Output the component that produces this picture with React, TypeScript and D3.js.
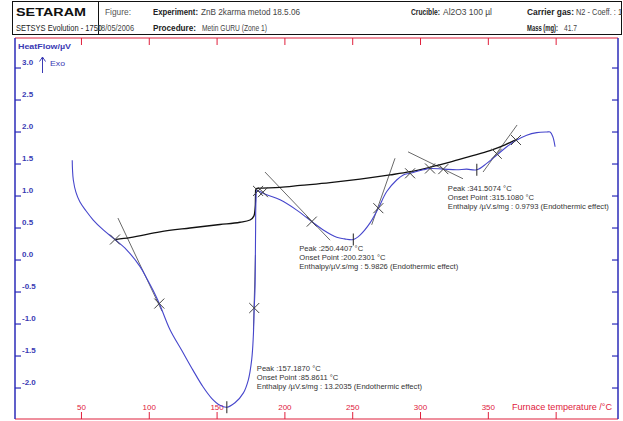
import * as d3 from 'd3'

// ---- data ----
const xTicks = [50, 100, 150, 200, 250, 300, 350, 400]
const xTickLabels = ['50', '100', '150', '200', '250', '300', '350']
const yTicks = [3.0, 2.5, 2.0, 1.5, 1.0, 0.5, 0.0, -0.5, -1.0, -1.5, -2.0]

// heat flow signal (blue)
const sigTemp = [43.2, 43.4, 44.0, 45.9, 48.8, 53.3, 58.7, 66.1, 74.7, 83.3, 93.1, 98.5, 102.7, 107.4, 115.3, 123.9, 132.2, 139.6, 146.0, 152.1, 157.2, 163.2, 169.3, 173.0, 175.5, 176.7, 177.4, 178.0, 178.2, 178.4, 178.7, 179.4, 181.6, 186.6, 196.4, 208.7, 219.8, 228.3, 238.2, 244.0, 250.4, 255.4, 262.8, 268.9, 275.1, 282.4, 287.3, 292.3, 302.1, 307.0, 316.8, 326.7, 334.0, 341.5, 348.8, 356.2, 363.6, 369.7, 378.3, 385.7, 393.1, 395.5, 397.5, 399.2]
const sigHeat = [1.56, 1.41, 1.25, 1.06, 0.91, 0.77, 0.625, 0.47, 0.32, 0.16, -0.1, -0.3, -0.47, -0.68, -1.09, -1.41, -1.72, -1.98, -2.16, -2.27, -2.3, -2.23, -2.08, -1.875, -1.56, -1.2, -0.75, -0.42, 0.0, 0.47, 0.94, 1.09, 1.07, 1.02, 0.94, 0.78, 0.6, 0.47, 0.355, 0.33, 0.32, 0.39, 0.58, 0.81, 1.07, 1.25, 1.33, 1.355, 1.41, 1.43, 1.42, 1.41, 1.42, 1.41, 1.51, 1.64, 1.77, 1.86, 1.95, 1.99, 2.0, 2.0, 1.93, 1.77]

// integration baseline (black)
const baseTemp = [74.7, 85.8, 107.9, 130.0, 152.1, 166.9, 174.3, 177.2, 178.2, 178.4, 179.2, 196.4, 211.2, 233.3, 255.4, 277.5, 292.3, 307.0, 321.7, 336.5, 351.2, 362.3, 371.2]
const baseHeat = [0.32, 0.35, 0.44, 0.5, 0.555, 0.59, 0.625, 0.69, 0.86, 1.09, 1.12, 1.135, 1.165, 1.21, 1.265, 1.33, 1.38, 1.45, 1.53, 1.62, 1.71, 1.8, 1.89]

// tangent construction lines [t1, h1, t2, h2]
const tangents: [number, number, number, number][] = [
  [76.9, 0.656, 109.4, -0.8],
  [178.3, 0.08, 176.8, -1.09],
  [185.3, 1.375, 233.3, 0.31],
  [264.0, 0.55, 281.2, 1.59],
  [290.8, 1.69, 331.3, 1.27],
  [346.1, 1.375, 371.2, 2.11],
]

// construction crosses
const crossTemp = [74.7, 107.4, 177.4, 180.2, 183.8, 219.8, 268.9, 292.3, 307.0, 316.8, 356.2, 370.4]
const crossHeat = [0.32, -0.68, -0.75, 1.08, 1.06, 0.6, 0.81, 1.355, 1.43, 1.42, 1.66, 1.875]

const peakTemps = [157.187, 250.4407, 341.5074]
const onsetTemps = [85.8611, 200.2301, 315.108]
const enthalpies = [13.2035, 5.9826, 0.9793]
const enthalpyPrefix = ['Enthalpy /µV.s/mg : ', 'Enthalpy/µV.s/mg : ', 'Enthalpy /µV.s/mg : ']

// label offsets from the peak marker (px)
const labelOffsets = [
  [30, -36],
  [-54, 11],
  [-29, 21],
]

const W = 623
const H = 421
const L = 15
const R = 618
const T = 38
const B = 419

const BLUE_AXIS = '#2b2bb8'
const RED = '#e0203c'
const FONT = '"Liberation Sans", Arial, sans-serif'

const x = d3.scaleLinear().domain([1, 445.6]).range([L, R])
const y = d3.scaleLinear().domain([-2.484, 3.469]).range([B, T])

const interp = (t: number) => {
  const i = d3.bisectLeft(sigTemp, t)
  if (i <= 0) return sigHeat[0]
  if (i >= sigTemp.length) return sigHeat[sigHeat.length - 1]
  const t0 = sigTemp[i - 1]
  const t1 = sigTemp[i]
  const f = (t - t0) / (t1 - t0)
  return sigHeat[i - 1] + f * (sigHeat[i] - sigHeat[i - 1])
}

function Header() {
  const txt = (s: string, xx: number, yy: number, len: number, opts: any = {}) => (
    <text
      x={xx}
      y={yy}
      fontSize={opts.size || 9}
      fontWeight={opts.bold ? 'bold' : 'normal'}
      fill={opts.fill || '#222'}
      textLength={len}
      lengthAdjust="spacingAndGlyphs"
    >
      {s}
    </text>
  )
  return (
    <g fontFamily={FONT}>
      <defs>
        <clipPath id="hdrClip">
          <rect x={12} y={1} width={610} height={34} />
        </clipPath>
      </defs>
      <rect x={12.5} y={1.5} width={609} height={33} fill="none" stroke="#111" strokeWidth={1} />
      <line x1={98.5} x2={98.5} y1={1.5} y2={34.5} stroke="#111" />
      <g clipPath="url(#hdrClip)">
        {txt('SETARAM', 16, 16, 70, { bold: true, size: 10, fill: '#111' })}
        {txt('SETSYS Evolution - 1750', 16, 31, 86, { fill: '#222' })}
        {txt('Figure:', 105, 15, 26, { fill: '#555' })}
        {txt('18/05/2006', 97, 31, 37, { fill: '#444' })}
        {txt('Experiment:', 153, 15, 45, { bold: true })}
        {txt('ZnB 2karma metod 18.5.06', 201, 15, 99, { fill: '#444' })}
        {txt('Procedure:', 153, 31, 43, { bold: true })}
        {txt('Metin GURU (Zone 1)', 202, 31, 65, { fill: '#444' })}
        {txt('Crucible:', 411, 15, 29, { bold: true })}
        {txt('Al2O3 100 µl', 443, 15, 49, { fill: '#444' })}
        {txt('Carrier gas:', 527, 15, 47, { bold: true })}
        {txt('N2 - Coeff. : 1', 576, 15, 46, { fill: '#444' })}
        {txt('Mass (mg):', 527, 31, 31, { bold: true })}
        {txt('41.7', 564, 31, 13, { fill: '#444' })}
      </g>
    </g>
  )
}

export default function App() {
  const sigLine = d3
    .line<number>()
    .x((_, i) => x(sigTemp[i]))
    .y((_, i) => y(sigHeat[i]))
    .curve(d3.curveCatmullRom.alpha(0.5))
  const baseLine = d3
    .line<number>()
    .x((_, i) => x(baseTemp[i]))
    .y((_, i) => y(baseHeat[i]))
    .curve(d3.curveMonotoneX)

  return (
    <svg
      width={W}
      height={H}
      style={{ position: 'absolute', left: 0, top: 0, background: '#fff' }}
      fontFamily={FONT}
    >
      <defs>
        <clipPath id="plotClip">
          <rect x={L} y={T} width={R - L} height={B - T} />
        </clipPath>
      </defs>
      <Header />

      {/* frame */}
      <line x1={L} x2={R} y1={T} y2={T} stroke={RED} strokeWidth={1.2} />
      <line x1={L} x2={R} y1={B} y2={B} stroke={RED} strokeWidth={1.2} />
      <line x1={L} x2={L} y1={T} y2={B} stroke={BLUE_AXIS} strokeWidth={1.5} />
      <line x1={R} x2={R} y1={T} y2={B} stroke={BLUE_AXIS} strokeWidth={1.5} />

      {/* x ticks */}
      {xTicks.map((t) => (
        <g key={t}>
          <line x1={x(t)} x2={x(t)} y1={T} y2={T + 7} stroke={RED} />
          <line x1={x(t)} x2={x(t)} y1={B} y2={B - 7} stroke={RED} />
        </g>
      ))}
      {xTickLabels.map((s, i) => (
        <text key={s} x={x(xTicks[i])} y={410} fontSize={8} fill={RED} textAnchor="middle">
          {s}
        </text>
      ))}
      <text x={512} y={410} fontSize={8.5} fill={RED} textLength={100} lengthAdjust="spacingAndGlyphs">
        Furnace temperature /°C
      </text>

      {/* y ticks */}
      {yTicks.map((v) => (
        <g key={v}>
          <line x1={L} x2={L + 6} y1={y(v)} y2={y(v)} stroke={BLUE_AXIS} strokeWidth={1.2} />
          <line x1={R} x2={R - 6} y1={y(v)} y2={y(v)} stroke={BLUE_AXIS} strokeWidth={1.2} />
          <text x={22} y={y(v) - 3} fontSize={8} fontWeight="bold" fill="#3a3ab4">
            {v.toFixed(1)}
          </text>
        </g>
      ))}
      <text x={18} y={49} fontSize={8} fontWeight="bold" fill="#3a3ab4" textLength={53} lengthAdjust="spacingAndGlyphs">
        HeatFlow/µV
      </text>
      <g stroke="#3a3ab4" strokeWidth={1} fill="none">
        <line x1={42.5} x2={42.5} y1={73} y2={57} />
        <polyline points="39.5,61.5 42.5,57 45.5,61.5" />
      </g>
      <text x={50} y={66} fontSize={8} fill="#3a3ab4" textLength={15} lengthAdjust="spacingAndGlyphs">
        Exo
      </text>

      <g clipPath="url(#plotClip)">
        {/* tangents */}
        {tangents.map((s, i) => (
          <line key={i} x1={x(s[0])} y1={y(s[1])} x2={x(s[2])} y2={y(s[3])} stroke="#6a6a6a" strokeWidth={1} />
        ))}
        <path d={baseLine(baseTemp) || ''} fill="none" stroke="#111" strokeWidth={1.3} />
        <path d={sigLine(sigTemp) || ''} fill="none" stroke="#4646cc" strokeWidth={1.1} />

        {/* crosses */}
        {crossTemp.map((t, i) => {
          const cx = x(t)
          const cy = y(crossHeat[i])
          return (
            <g key={i} stroke="#444" strokeWidth={1}>
              <line x1={cx - 5} y1={cy - 5} x2={cx + 5} y2={cy + 5} />
              <line x1={cx - 5} y1={cy + 5} x2={cx + 5} y2={cy - 5} />
            </g>
          )
        })}

        {/* peaks + annotations */}
        {peakTemps.map((p, i) => {
          const px = x(p)
          const py = y(interp(p))
          const lx = px + labelOffsets[i][0]
          const ly = py + labelOffsets[i][1]
          return (
            <g key={p}>
              <line x1={px} x2={px} y1={py - 6} y2={py + 6} stroke="#222" strokeWidth={1} />
              <g fontSize={7.6} fill="#333">
                <text x={lx} y={ly}>{`Peak :${p.toFixed(4)} °C`}</text>
                <text x={lx} y={ly + 9}>{`Onset Point :${onsetTemps[i].toFixed(4)} °C`}</text>
                <text x={lx} y={ly + 18}>{`${enthalpyPrefix[i]}${enthalpies[i].toFixed(4)} (Endothermic effect)`}</text>
              </g>
            </g>
          )
        })}
      </g>
    </svg>
  )
}
